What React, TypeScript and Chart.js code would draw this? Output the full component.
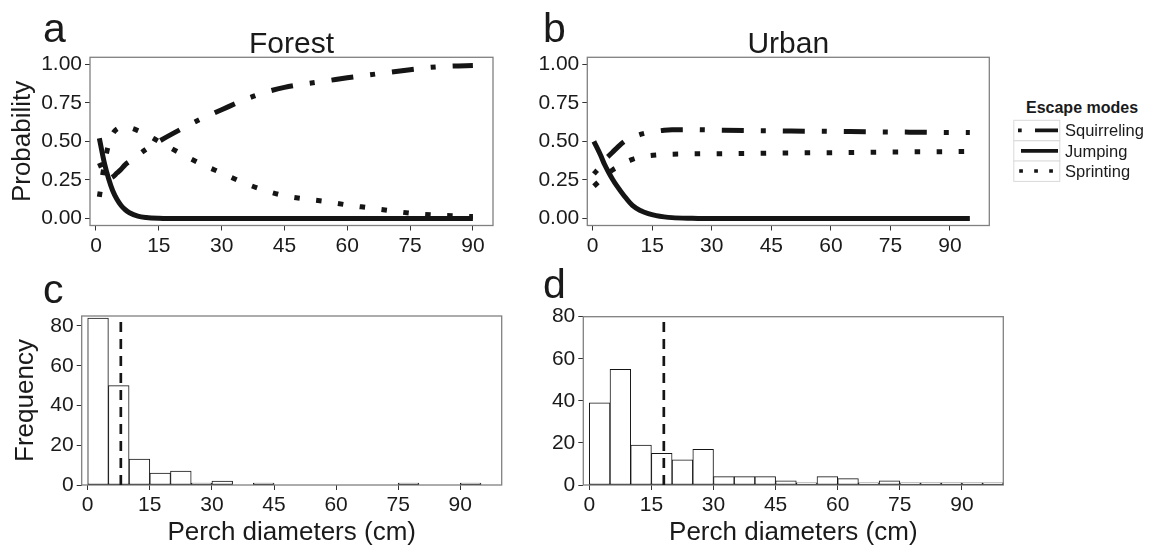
import React, { useEffect, useRef } from "react";
import { Chart, registerables } from "chart.js";
Chart.register(...registerables);

// ---------- data ----------
const probTicks = [0, 0.25, 0.5, 0.75, 1];
const diamTicks = [0, 15, 30, 45, 60, 75, 90];
const freqTicks = [0, 20, 40, 60, 80];

const forestX = [0.8, 2, 3, 4, 5, 6, 7, 8, 10, 12, 15, 20, 25, 30, 35, 40, 45, 50, 55, 60, 65, 70, 75, 80, 85, 90];
const forestJumping = [0.52, 0.36, 0.26, 0.18, 0.125, 0.085, 0.057, 0.038, 0.016, 0.007, 0.002, 0, 0, 0, 0, 0, 0, 0, 0, 0, 0, 0, 0, 0, 0, 0];
const forestSprinting = [0.14, 0.35, 0.48, 0.55, 0.58, 0.59, 0.595, 0.59, 0.57, 0.545, 0.5, 0.425, 0.355, 0.295, 0.235, 0.185, 0.148, 0.127, 0.11, 0.088, 0.07, 0.052, 0.035, 0.024, 0.018, 0.013];
const forestSquirreling = [0.36, 0.29, 0.26, 0.27, 0.295, 0.32, 0.35, 0.37, 0.41, 0.45, 0.5, 0.575, 0.645, 0.705, 0.765, 0.815, 0.85, 0.873, 0.892, 0.912, 0.93, 0.948, 0.965, 0.98, 0.988, 0.992];

const urbanX = [0.3, 2, 3, 4, 5, 6, 8, 10, 12, 14, 16, 18, 20, 25, 30, 40, 50, 60, 70, 80, 90, 95];
const urbanJumping = [0.5, 0.41, 0.35, 0.3, 0.255, 0.215, 0.145, 0.085, 0.052, 0.032, 0.019, 0.011, 0.006, 0.002, 0, 0, 0, 0, 0, 0, 0, 0];
const urbanSprinting = [0.21, 0.25, 0.27, 0.295, 0.315, 0.33, 0.36, 0.383, 0.398, 0.407, 0.412, 0.415, 0.417, 0.419, 0.42, 0.422, 0.425, 0.427, 0.43, 0.432, 0.434, 0.435];
const urbanSquirreling = [0.29, 0.34, 0.38, 0.405, 0.43, 0.455, 0.5, 0.525, 0.545, 0.558, 0.566, 0.572, 0.575, 0.576, 0.574, 0.57, 0.567, 0.565, 0.562, 0.56, 0.558, 0.557];

const binStarts = [0, 5, 10, 15, 20, 25, 30, 35, 40, 45, 50, 55, 60, 65, 70, 75, 80, 85, 90, 95];
const binWidth = 5;
const forestCounts = [84, 50, 13, 6, 7, 1, 2, 0, 1, 0, 0, 0, 0, 0, 0, 1, 0, 0, 1, 0];
const urbanCounts = [39, 55, 19, 15, 12, 17, 4, 4, 4, 2, 1, 4, 3, 1, 2, 1, 1, 1, 1, 1];
const forestMean = 8;
const urbanMean = 18;

const modeLabels = ["Squirreling", "Jumping", "Sprinting"];

// ---------- styling ----------
const FONT = "'Liberation Sans', Arial, Helvetica, sans-serif";
const INK = "#151515";
const TXT = "#1a1a1a";

const frame = {
  id: "frame",
  beforeDatasetsDraw(chart: any) {
    const { ctx, chartArea: a } = chart;
    ctx.save();
    ctx.strokeStyle = "#808080";
    ctx.lineWidth = 1.3;
    ctx.strokeRect(a.left, a.top, a.right - a.left, a.bottom - a.top);
    ctx.restore();
  },
};

function axis(min: number, max: number, ticks: number[], fit: (s: any) => void, fmt: (v: number) => string, title?: any) {
  return {
    type: "linear",
    min,
    max,
    offset: false,
    afterBuildTicks: (s: any) => {
      s.ticks = ticks.map((v) => ({ value: v }));
    },
    afterFit: fit,
    border: { display: false },
    grid: { display: true, offset: false, drawOnChartArea: false, drawTicks: true, tickLength: 5, color: "#333", lineWidth: 1 },
    ticks: { font: { family: FONT, size: 21 }, color: TXT, padding: 3, maxRotation: 0, autoSkip: false, callback: (v: any) => fmt(Number(v)) },
    title: title || { display: false },
  };
}

function lineConfig(xs: number[], jump: number[], sprint: number[], squirrel: number[], xMin: number, xMax: number, yWidth: number, padRight: number, yTitle: boolean) {
  const pts = (ys: number[]) => xs.map((x, i) => ({ x, y: ys[i] }));
  const common = { borderColor: INK, borderWidth: 5, borderCapStyle: "butt", borderJoinStyle: "round", pointRadius: 0, cubicInterpolationMode: "monotone", fill: false };
  return {
    type: "line",
    data: {
      datasets: [
        { ...common, label: modeLabels[0], data: pts(squirrel), borderDash: [5, 17, 22, 17] },
        { ...common, label: modeLabels[2], data: pts(sprint), borderDash: [5.5, 16.5] },
        { ...common, label: modeLabels[1], data: pts(jump), borderDash: [] },
      ],
    },
    options: {
      animation: false,
      responsive: false,
      events: [],
      layout: { padding: { left: 0, top: 57.3, right: padRight, bottom: 0 } },
      plugins: { legend: { display: false }, tooltip: { enabled: false }, title: { display: false } },
      scales: {
        x: axis(xMin, xMax, diamTicks, (s) => { s.height = 34.5; }, (v) => String(v)),
        y: axis(-0.045, 1.045, probTicks, (s) => { s.width = yWidth; }, (v) => v.toFixed(2),
          yTitle ? { display: true, text: "Probability", color: TXT, font: { family: FONT, size: 26, lineHeight: 1.1 }, padding: { top: 8.7, bottom: 0 } } : undefined),
      },
    },
    plugins: [frame],
  };
}

function histConfig(counts: number[], mean: number, yMax: number, yWidth: number, padRight: number, padTop: number, yTitle: boolean) {
  const bars = binStarts.map((b, i) => ({ x: b + binWidth / 2, y: counts[i] }));
  return {
    type: "bar",
    data: {
      datasets: [
        { type: "line", data: [{ x: mean, y: 0 }, { x: mean, y: yMax }], borderColor: INK, borderWidth: 2.7, borderDash: [10, 7], borderCapStyle: "butt", pointRadius: 0, order: 0 },
        { type: "bar", data: bars, backgroundColor: "#ffffff", borderColor: INK, borderWidth: 1, borderSkipped: false, barPercentage: 1, categoryPercentage: 1, order: 1 },
      ],
    },
    options: {
      animation: false,
      responsive: false,
      events: [],
      layout: { padding: { left: 0, top: padTop, right: padRight, bottom: 0 } },
      plugins: { legend: { display: false }, tooltip: { enabled: false }, title: { display: false } },
      scales: {
        x: axis(-1.45, 100, diamTicks, (s) => { s.height = 62; }, (v) => String(v),
          { display: true, text: "Perch diameters (cm)", color: TXT, font: { family: FONT, size: 26, lineHeight: 1.1 }, padding: { top: 0, bottom: 0 } }),
        y: axis(0, yMax, freqTicks, (s) => { s.width = yWidth; }, (v) => String(v),
          yTitle ? { display: true, text: "Frequency", color: TXT, font: { family: FONT, size: 26, lineHeight: 1.1 }, padding: { top: 11.5, bottom: 0 } } : undefined),
      },
    },
    plugins: [frame],
  };
}

const abs = (left: number, top: number, extra: any = {}) => ({ position: "absolute" as const, left, top, lineHeight: 1, whiteSpace: "nowrap" as const, ...extra });

export default function App() {
  const refA = useRef<HTMLCanvasElement>(null);
  const refB = useRef<HTMLCanvasElement>(null);
  const refC = useRef<HTMLCanvasElement>(null);
  const refD = useRef<HTMLCanvasElement>(null);

  useEffect(() => {
    const charts = [
      new Chart(refA.current!, lineConfig(forestX, forestJumping, forestSprinting, forestSquirreling, -1.43, 94.8, 90, 17, true) as any),
      new Chart(refB.current!, lineConfig(urbanX, urbanJumping, urbanSprinting, urbanSquirreling, -1.36, 99.9, 87.3, 20.7, false) as any),
      new Chart(refC.current!, histConfig(forestCounts, forestMean, 85, 81.7, 8.3, 66, true) as any),
      new Chart(refD.current!, histConfig(urbanCounts, urbanMean, 80, 83.3, 6.7, 66.7, false) as any),
    ];
    return () => charts.forEach((c) => c.destroy());
  }, []);

  const legendRows = [130.3, 150.8, 171];

  return (
    <div style={{ position: "fixed", left: 0, top: 0, width: 1151, height: 547, overflow: "hidden", background: "#fff", fontFamily: FONT, color: TXT }}>
      <canvas ref={refA} width={510} height={260} style={{ position: "absolute", left: 0, top: 0 }} />
      <canvas ref={refB} width={510} height={260} style={{ position: "absolute", left: 500, top: 0 }} />
      <canvas ref={refC} width={510} height={297} style={{ position: "absolute", left: 0, top: 250 }} />
      <canvas ref={refD} width={510} height={297} style={{ position: "absolute", left: 500, top: 250 }} />

      <div style={abs(43, 7.8, { fontSize: 41 })}>a</div>
      <div style={abs(543, 7.8, { fontSize: 41 })}>b</div>
      <div style={abs(43, 269.4, { fontSize: 41 })}>c</div>
      <div style={abs(543, 264.4, { fontSize: 41 })}>d</div>

      <div style={abs(90, 27.9, { width: 403, textAlign: "center", fontSize: 30 })}>Forest</div>
      <div style={abs(587.3, 27.9, { width: 402, textAlign: "center", fontSize: 30 })}>Urban</div>

      <div style={abs(1026, 99.5, { fontSize: 16, fontWeight: "bold" })}>Escape modes</div>
      <svg style={{ position: "absolute", left: 1000, top: 110 }} width={70} height={80}>
        {legendRows.map((cy, i) => (
          <rect key={i} x={13.8} y={cy - 110 - 10} width={46} height={20.4} fill="#fff" stroke="#d9d9d9" strokeWidth={1} />
        ))}
        <line x1={18} x2={58} y1={20.3} y2={20.3} stroke={INK} strokeWidth={3.7} strokeDasharray="3.7 13.3 23 13.3" />
        <line x1={21} x2={58} y1={40.8} y2={40.8} stroke={INK} strokeWidth={3.7} />
        <line x1={19.2} x2={53} y1={61} y2={61} stroke={INK} strokeWidth={3.7} strokeDasharray="3.7 11.3" />
      </svg>
      {modeLabels.map((t, i) => (
        <div key={t} style={abs(1065, legendRows[i] - 8, { fontSize: 16.5 })}>{t}</div>
      ))}
    </div>
  );
}
